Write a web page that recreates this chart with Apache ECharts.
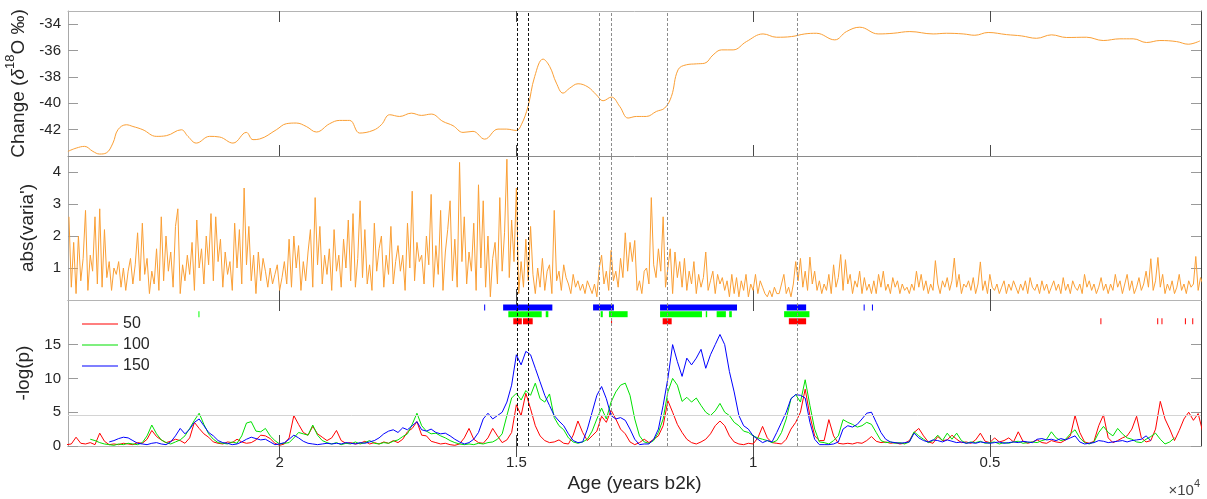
<!DOCTYPE html>
<html>
<head>
<meta charset="utf-8">
<script src="https://cdn.jsdelivr.net/npm/echarts@6/dist/echarts.min.js"></script>
<style>
  html, body { margin: 0; padding: 0; background: #fff; }
  #chart { width: 1207px; height: 499px; }
</style>
</head>
<body>
<div id="chart"></div>
<script>
// ---- tick positions -------------------------------------------------------
const ageTicks = [5000, 10000, 15000, 20000];
const d18oTicks = [-42, -40, -38, -36, -34];
const variaTicks = [1, 2, 3, 4];
const logpTicks = [0, 5, 10, 15];

// ---- δ18O record: [age b2k, ‰] ------------------------------------------
const d18o = [
  [24472,-43.65],[24296,-43.40],[24120,-43.27],[23944,-43.65],[23803,-43.85],[23662,-43.77],
  [23521,-43.02],[23416,-42.01],[23239,-41.63],[23099,-41.76],[22887,-42.01],[22606,-42.51],
  [22394,-42.46],[22077,-42.01],[21937,-42.51],[21761,-43.02],[21479,-42.51],[21268,-42.56],
  [20986,-43.02],[20704,-42.21],[20563,-42.76],[20423,-42.71],[20070,-42.01],[19859,-41.55],
  [19648,-41.50],[19437,-41.76],[19225,-42.18],[18944,-41.55],[18732,-41.30],[18521,-41.30],
  [18310,-42.26],[18028,-42.06],[17852,-41.63],[17676,-40.87],[17465,-41.00],[17219,-40.75],
  [17007,-40.92],[16796,-40.82],[16550,-41.38],[16338,-41.70],[16127,-42.21],[15916,-42.13],
  [15669,-42.72],[15388,-41.96],[15211,-41.96],[15000,-42.06],[14895,-41.63],[14754,-40.24],
  [14613,-37.97],[14437,-36.65],[14296,-37.21],[14155,-38.47],[14014,-39.23],[13873,-38.85],
  [13697,-38.52],[13486,-38.77],[13310,-39.36],[13169,-39.81],[12993,-39.53],[12817,-40.24],
  [12641,-41.12],[12465,-41.00],[12254,-41.00],[12043,-40.62],[11867,-40.36],[11725,-39.48],
  [11585,-37.46],[11409,-37.08],[11197,-37.01],[11021,-36.96],[10845,-36.33],[10669,-35.95],
  [10422,-35.95],[10141,-35.32],[9789,-34.74],[9507,-34.99],[9190,-34.94],[8909,-34.74],
  [8662,-34.69],[8275,-35.19],[8028,-34.56],[7746,-34.23],[7359,-34.74],[7042,-34.69],
  [6690,-34.56],[6197,-34.74],[5915,-34.69],[5563,-34.74],[5317,-34.84],[5035,-34.63],
  [4648,-34.79],[4331,-34.89],[4014,-35.07],[3697,-34.81],[3380,-35.01],[2958,-34.99],
  [2605,-35.24],[2253,-35.11],[1972,-35.11],[1690,-35.39],[1408,-35.24],[1056,-35.32],
  [810,-35.52],[563,-35.27]
];

// ---- abs(varia'): one value every 50 years from 24450 b2k -----------------
const variaStartAge = 24450;
const variaStepYears = 50;
const varia = [
  2.6,0.4,1.8,0.2,2.0,0.6,1.3,2.8,0.3,1.4,0.9,2.6,0.5,2.85,0.4,2.2,0.7,1.2,0.3,1.0,
  0.8,1.2,0.4,1.0,0.3,0.9,1.3,0.5,1.1,2.1,0.6,2.4,0.8,1.3,0.2,0.9,0.5,1.6,0.3,2.6,
  0.6,2.0,0.9,1.5,0.4,2.3,2.85,0.2,1.1,0.6,1.4,0.8,1.8,0.3,2.5,1.0,1.6,0.5,2.0,1.1,
  2.7,0.6,2.6,1.2,1.9,0.4,1.5,0.8,1.2,0.3,2.4,1.0,2.2,0.5,3.5,1.1,2.3,0.6,1.4,0.2,
  1.5,0.6,1.3,0.9,0.4,1.0,0.5,0.8,1.1,0.3,0.7,1.2,0.5,1.9,0.4,2.0,1.0,1.7,0.3,1.2,
  0.6,1.5,2.2,0.4,3.2,1.1,2.3,0.5,1.4,0.8,1.6,0.3,2.2,0.9,1.4,0.4,1.9,1.0,2.5,0.6,
  2.7,0.4,1.3,3.1,0.7,2.2,0.5,1.1,0.3,2.4,0.9,1.6,2.0,0.4,1.4,0.8,2.3,0.5,1.2,1.7,
  0.9,1.4,0.3,2.4,1.0,3.4,0.6,1.8,1.2,1.4,0.5,2.0,1.1,3.3,0.4,1.7,0.8,2.8,0.3,1.5,
  2.2,3.1,0.6,1.9,0.4,4.3,1.2,2.6,0.5,1.5,0.9,2.4,0.3,3.6,1.0,3.1,0.4,2.0,0.1,1.3,
  1.8,0.5,3.2,0.9,2.1,4.4,0.7,2.5,1.2,3.5,0.2,1.2,0.4,1.9,0.6,2.3,0.8,0.2,1.0,0.4,
  1.3,0.3,0.9,1.1,0.2,2.8,0.6,0.9,0.3,1.1,0.7,0.5,0.2,0.8,0.4,0.6,0.3,0.5,0.2,0.6,
  0.4,0.2,0.5,0.1,1.0,1.4,0.5,0.9,0.3,1.55,0.6,0.9,0.4,1.3,0.7,2.1,0.9,1.8,1.2,1.86,
  0.3,0.6,0.2,0.9,1.0,0.5,3.2,1.1,0.7,1.6,0.9,2.6,0.4,1.0,1.6,0.2,1.5,0.7,1.2,0.4,
  1.3,0.3,0.9,0.5,1.2,0.2,0.8,0.4,0.7,1.5,0.3,0.6,0.9,0.2,0.8,0.5,0.7,0.3,0.6,0.1,
  0.8,0.2,0.7,0.1,0.6,0.3,0.8,0.1,0.5,0.3,0.8,0.2,0.6,0.4,0.2,0.1,0.3,0.1,0.4,0.2,
  0.2,0.5,0.8,0.2,0.4,0.1,0.5,1.2,0.6,1.3,0.4,0.9,0.3,1.34,0.5,0.9,0.3,0.6,0.2,0.5,
  0.3,0.8,0.2,1.1,0.4,0.7,1.42,0.3,1.26,0.5,0.8,0.2,0.6,0.4,0.9,0.2,0.7,0.3,0.5,0.2,
  0.6,0.2,0.8,0.4,0.9,0.3,0.5,0.2,0.7,0.4,0.6,0.2,0.5,0.3,0.4,0.2,0.5,0.3,0.9,0.4,
  0.8,0.3,0.6,0.2,0.5,0.3,1.23,0.5,0.2,0.6,0.4,0.7,0.3,0.6,1.31,0.4,0.8,0.2,0.5,0.4,
  0.6,0.3,0.7,0.2,0.5,1.19,0.3,0.6,0.2,0.8,0.4,0.3,0.5,0.2,0.4,0.6,0.2,0.5,0.3,0.6,
  0.4,0.2,0.5,0.3,0.6,0.2,0.7,0.4,0.3,0.5,0.2,0.6,0.3,0.5,0.2,0.4,0.6,0.3,0.5,0.2,
  0.7,0.3,0.5,0.2,0.6,0.4,0.3,0.5,0.2,0.8,0.4,0.6,0.3,0.5,0.2,0.4,0.7,0.3,0.5,0.2,
  0.5,0.3,0.8,0.4,0.6,0.2,0.5,0.8,0.3,0.6,0.2,0.4,0.7,0.3,0.5,0.9,0.4,1.29,0.3,0.6,
  1.33,0.4,0.8,0.2,0.5,0.3,0.6,0.2,0.4,0.8,0.3,0.5,0.2,0.6,0.4,0.5,1.36,0.3,0.7,0.5
];

// ---- -log(p) for the three window lengths, one value per 100 years -------
const logpStepYears = 100;
const p50StartAge = 24500;
const p50 = [
  0.2,0.3,1.3,0.4,0.3,0.5,0.2,1.9,0.7,0.2,
  0.3,0.2,0.4,0.3,0.2,0.5,0.4,1.0,2.3,1.4,
  0.9,0.5,0.7,1.0,0.8,0.4,1.2,3.5,2.6,1.8,
  1.3,0.6,0.4,0.3,0.6,0.5,1.0,0.6,0.4,0.5,
  0.9,1.6,1.5,1.1,0.4,0.1,0.3,1.2,4.5,3.2,
  2.0,1.6,2.9,1.8,1.3,0.8,1.2,2.3,0.8,0.4,
  0.5,0.3,0.4,0.7,0.3,0.5,0.3,0.6,0.4,0.8,
  0.5,1.0,2.1,2.6,3.6,1.6,1.5,0.7,0.5,0.3,
  0.4,0.2,0.1,0.3,1.2,2.6,1.0,0.5,0.4,1.2,
  2.6,1.5,0.5,0.9,2.0,6.1,4.5,7.8,5.5,3.0,
  1.5,0.8,0.5,0.6,0.9,0.4,0.3,1.6,3.7,2.0,
  0.8,1.5,2.2,4.4,3.5,5.3,4.0,2.5,1.8,0.6,
  0.2,0.5,1.0,0.5,1.0,1.5,3.0,6.7,5.0,3.2,
  2.0,1.0,0.5,0.3,0.6,1.0,1.8,3.0,3.7,3.0,
  1.5,0.6,0.3,0.2,0.4,0.3,1.2,2.9,1.2,0.5,
  0.4,0.3,1.0,2.5,3.5,5.0,8.4,4.5,1.5,0.8,
  0.8,3.9,1.5,0.4,0.3,0.4,0.3,0.5,0.4,0.8,
  1.4,0.7,0.5,0.6,0.4,0.5,0.3,0.4,0.8,2.0,
  2.6,1.5,0.6,0.4,1.4,0.8,0.9,1.6,1.0,0.5,
  0.6,0.4,0.9,1.9,0.7,0.5,1.2,0.6,0.8,1.2,
  0.6,2.1,0.7,0.4,0.6,0.9,0.5,0.4,0.8,0.6,
  0.5,0.9,1.5,4.5,2.0,0.6,0.4,0.7,3.0,4.6,
  1.2,0.5,0.8,1.2,1.5,2.5,4.4,1.2,0.6,0.8,
  2.5,6.6,4.0,2.5,0.8,2.3,4.0,5.0,3.8,4.8,
  2.0
];
const p100StartAge = 24000;
const p100 = [
  1.0,0.8,0.5,0.3,0.2,0.1,0.3,0.2,0.4,0.3,
  0.2,0.5,1.5,3.1,1.8,0.9,0.5,0.3,0.6,0.9,
  1.5,2.6,3.8,4.85,3.2,1.8,1.0,0.5,0.4,0.3,
  0.6,0.4,1.5,3.4,3.6,2.2,2.1,2.6,1.5,0.8,
  0.3,0.4,0.5,1.2,2.0,1.8,1.6,3.1,1.6,0.8,
  0.5,0.3,0.5,0.2,0.4,0.3,0.6,0.3,0.5,0.8,
  0.4,0.3,0.5,0.4,0.7,0.9,1.4,1.8,3.2,4.85,
  3.0,2.2,1.8,1.9,1.5,1.2,0.8,0.5,0.3,0.2,
  0.3,0.2,0.4,0.3,0.5,0.6,1.0,1.8,4.5,7.1,
  7.8,6.8,8.2,7.5,9.3,7.0,6.5,7.7,4.2,3.0,
  2.4,1.2,0.6,0.4,0.6,1.0,2.2,4.0,5.6,4.0,
  6.5,8.0,9.0,9.3,7.5,4.0,1.5,0.6,0.4,0.8,
  2.0,4.0,8.0,10.0,9.0,6.6,7.2,6.5,7.1,6.0,
  5.0,4.5,5.2,6.3,5.0,4.5,3.5,3.0,2.2,2.0,
  1.5,1.2,1.0,0.8,0.5,0.8,2.0,4.0,7.0,7.6,
  6.5,9.8,6.0,2.5,0.6,0.5,0.3,0.8,1.5,3.9,
  3.5,3.2,2.8,3.0,3.5,3.2,2.0,0.8,0.5,0.6,
  0.4,0.5,0.3,0.6,2.1,1.5,1.0,0.5,0.8,1.6,
  0.8,1.9,1.0,1.9,0.8,0.4,0.6,0.5,0.7,0.4,
  0.5,0.6,0.3,0.5,0.4,0.6,0.7,0.4,0.5,0.6,
  0.5,0.8,1.0,2.1,1.2,0.8,1.0,1.8,2.4,1.2,
  0.5,0.3,0.6,2.0,2.9,2.0,1.5,2.6,1.8,1.2,
  1.0,0.6,0.5,1.0,1.4,1.9,1.0,0.3,0.6,1.2
];
const p150StartAge = 23600;
const p150 = [
  0.6,0.8,1.1,1.3,1.2,0.8,0.4,0.3,0.2,0.4,
  0.5,0.3,0.2,0.6,1.5,2.6,1.8,2.5,3.5,4.0,
  3.0,2.0,1.5,0.8,0.5,0.4,0.2,0.3,0.6,1.0,
  1.3,1.1,0.9,1.0,0.6,0.2,0.3,0.5,1.0,1.6,
  1.2,0.7,0.4,0.3,0.2,0.3,0.4,0.3,0.4,0.3,
  0.5,0.4,0.3,0.5,0.4,0.6,0.8,1.2,1.8,2.2,
  2.4,2.0,2.7,2.4,3.0,3.6,2.4,2.2,2.5,2.0,
  1.8,1.9,1.5,1.0,0.6,0.3,0.5,1.0,2.0,4.0,
  4.85,4.0,4.5,5.0,6.5,9.0,13.5,12.0,14.0,13.5,
  11.5,9.5,7.5,6.0,4.5,3.7,3.0,1.8,0.8,0.5,
  0.6,2.5,5.0,7.5,8.8,7.0,4.5,4.0,4.2,3.8,
  2.5,1.0,0.2,0.3,0.3,1.0,2.5,6.0,10.0,15.0,
  12.5,10.3,13.0,12.0,13.0,14.3,11.5,13.5,15.0,16.5,
  15.0,11.0,8.0,4.5,3.0,2.5,1.5,1.0,0.5,0.8,
  0.6,2.0,3.5,5.0,7.0,7.6,7.5,7.1,3.5,1.0,
  0.2,0.2,0.2,0.3,0.6,2.5,3.0,2.8,3.2,4.0,
  4.85,5.0,3.5,2.0,1.0,0.6,0.5,0.4,0.5,0.6,
  1.9,1.2,0.8,0.6,0.9,0.8,0.6,0.9,0.7,0.5,
  0.6,0.4,0.5,0.4,0.6,0.5,0.4,0.5,0.6,0.4,
  0.5,0.6,0.5,0.7,0.6,0.5,1.0,1.1,0.9,1.0,
  0.8,1.1,0.9,1.2,1.5,0.6,0.3,0.4,0.5,0.8,
  0.7,0.5,0.6,0.7,0.8,0.6,0.8,0.9,1.0,1.5,
  0.8
];

// ---- significant intervals [older age, younger age] per window -----------
const sig150 = [[15680,15660],[15280,14240],[13380,12940],[11965,10340],[9290,8880],[7665,7645],[7490,7470]];
const sig100 = [[21715,21695],[15170,14465],[14380,14325],[13220,13175],[13045,12650],[11965,11080],
                [11000,10970],[10770,10575],[10505,10450],[9345,8810]];
const sig50  = [[15065,14885],[14860,14655],[13000,12980],[11910,11720],[9245,8880],[2665,2645],
                [1465,1445],[1375,1355],[880,860],[725,705]];

// ---- marked events (age b2k) and significance threshold -------------------
const eventAges = [14990, 14754, 13260, 12986, 11809, 9063];
const eventIsMajor = [true, true, false, false, false, false];
const logpThreshold = 4.6;

// ---- layout / style -------------------------------------------------------
const AGE_MIN = 540, AGE_MAX = 24470;
const FONT = '"Liberation Sans", Arial, Helvetica, sans-serif';
const TXT = '#262626';
const ORANGE = '#FA9F35';
const PLOT_LEFT = 68, PLOT_WIDTH = 1133;
const panels = [
  { top: 11,  height: 145, min: -44, max: -33, ticks: d18oTicks },
  { top: 156, height: 144, min: 0,   max: 4.5, ticks: variaTicks },
  { top: 300, height: 146, min: 0,   max: 21.6, ticks: logpTicks }
];
const BAND_LEVEL = { b150: 20.5, b100: 19.5, b50: 18.45 };

const toPairs = (start, step, vals) => vals.map((v, i) => [start - i * step, v]);

const grid = panels.map(p => ({
  left: PLOT_LEFT, width: PLOT_WIDTH, top: p.top, height: p.height,
  containLabel: false, outerBoundsMode: 'none'
}));

const xAxis = [];
const yAxis = [];
panels.forEach((p, i) => {
  const isLast = i === panels.length - 1;
  xAxis.push({
    type: 'value', gridIndex: i, position: 'bottom',
    min: AGE_MIN, max: AGE_MAX, inverse: true,
    axisLine: { show: true, lineStyle: { color: '#8a8a8a', width: 1 } },
    axisTick: { show: true, inside: true, length: 11, customValues: ageTicks,
                lineStyle: { color: '#4a4a4a' } },
    axisLabel: { show: isLast, customValues: ageTicks, formatter: v => String(v / 10000),
                 fontSize: 15, fontFamily: FONT, color: TXT, margin: 9 },
    splitLine: { show: false },
    name: isLast ? 'Age (years b2k)' : '',
    nameLocation: 'middle', nameGap: 28,
    nameTextStyle: { fontSize: 19, fontFamily: FONT, color: TXT }
  });
  xAxis.push({
    type: 'value', gridIndex: i, position: 'top',
    min: AGE_MIN, max: AGE_MAX, inverse: true,
    axisLine: { show: true, lineStyle: { color: '#b4b4b4', width: 1 } },
    axisTick: { show: true, inside: true, length: 11, customValues: ageTicks,
                lineStyle: { color: '#4a4a4a' } },
    axisLabel: { show: false },
    splitLine: { show: false }
  });
  yAxis.push({
    type: 'value', gridIndex: i, position: 'left', min: p.min, max: p.max,
    axisLine: { show: true, lineStyle: { color: '#a8a8a8', width: 1 } },
    axisTick: { show: true, inside: true, length: 10, customValues: p.ticks,
                lineStyle: { color: '#9a9a9a' } },
    axisLabel: { show: true, customValues: p.ticks, fontSize: 15, fontFamily: FONT,
                 color: TXT, margin: 7 },
    splitLine: { show: false },
    nameLocation: 'middle', nameRotate: 90, nameGap: 31,
    nameTextStyle: { fontSize: 19, fontFamily: FONT, color: TXT }
  });
  yAxis.push({
    type: 'value', gridIndex: i, position: 'right', min: p.min, max: p.max,
    axisLine: { show: true, lineStyle: { color: '#404040', width: 1 } },
    axisTick: { show: true, inside: true, length: 10, customValues: p.ticks,
                lineStyle: { color: '#9a9a9a' } },
    axisLabel: { show: false },
    splitLine: { show: false }
  });
});

yAxis[0].name = '{t|Change (}{d|δ}{s|18}{t|O ‰)}';
yAxis[0].nameTextStyle = {
  color: TXT, fontFamily: FONT, fontSize: 19,
  rich: {
    t: { fontSize: 19, fontFamily: FONT, color: TXT, lineHeight: 24, verticalAlign: 'bottom' },
    d: { fontSize: 19, fontFamily: FONT, color: TXT, fontStyle: 'italic', lineHeight: 24, verticalAlign: 'bottom' },
    s: { fontSize: 13, fontFamily: FONT, color: TXT, lineHeight: 12, verticalAlign: 'top' }
  }
};
yAxis[2].name = "abs(varia')";
yAxis[4].name = '-log(p)';

const eventLines = eventAges.map((a, k) => ({
  xAxis: a,
  lineStyle: { color: eventIsMajor[k] ? '#111' : '#8c8c8c', type: [3, 2], width: 1 }
}));
const markEvents = extra => ({
  silent: true, symbol: ['none', 'none'], label: { show: false },
  animation: false, data: eventLines.concat(extra || [])
});

function bandSeries(name, intervals, level, color) {
  return {
    type: 'custom', name, xAxisIndex: 4, yAxisIndex: 4, silent: true, z: 3,
    data: intervals.map(([a, b]) => [a, b, level]),
    encode: { x: [0, 1], y: 2 },
    renderItem: (params, api) => {
      const p0 = api.coord([api.value(0), api.value(2)]);
      const p1 = api.coord([api.value(1), api.value(2)]);
      const x = Math.min(p0[0], p1[0]);
      const w = Math.max(1, Math.abs(p1[0] - p0[0]));
      return { type: 'rect', shape: { x, y: p0[1] - 3, width: w, height: 6 },
               style: { fill: color } };
    }
  };
}

const lineOf = (name, data, xi, yi, color, extra) => Object.assign({
  type: 'line', name, data, xAxisIndex: xi, yAxisIndex: yi,
  symbol: 'none', showSymbol: false, clip: true,
  lineStyle: { color, width: 1 }, itemStyle: { color }
}, extra || {});

const option = {
  animation: false,
  backgroundColor: '#fff',
  textStyle: { fontFamily: FONT },
  grid, xAxis, yAxis,
  legend: {
    data: ['50', '100', '150'],
    orient: 'vertical', left: 77, top: 311, padding: 5,
    icon: 'rect', itemWidth: 36, itemHeight: 1, itemGap: 5,
    textStyle: { fontSize: 16, lineHeight: 16, fontFamily: FONT, color: TXT },
    selectedMode: false
  },
  graphic: [{
    type: 'text', right: 7, top: 478, silent: true,
    style: {
      text: '{a|×10}{b|4}',
      rich: {
        a: { fontSize: 15, fontFamily: FONT, fill: '#444', lineHeight: 20, verticalAlign: 'bottom' },
        b: { fontSize: 11, fontFamily: FONT, fill: '#444', lineHeight: 10, verticalAlign: 'top' }
      }
    }
  }],
  series: [
    lineOf('δ18O', d18o, 0, 0, ORANGE, { smooth: 0.4, markLine: markEvents() }),
    lineOf('varia', toPairs(variaStartAge, variaStepYears, varia), 2, 2, ORANGE,
           { markLine: markEvents() }),
    lineOf('50', toPairs(p50StartAge, logpStepYears, p50), 4, 4, '#ff0000', {
      markLine: markEvents([{ yAxis: logpThreshold,
        lineStyle: { color: '#d4d4d4', type: 'solid', width: 1 } }])
    }),
    lineOf('100', toPairs(p100StartAge, logpStepYears, p100), 4, 4, '#00e000'),
    lineOf('150', toPairs(p150StartAge, logpStepYears, p150), 4, 4, '#0000ff'),
    bandSeries('sig150', sig150, BAND_LEVEL.b150, '#0000ff'),
    bandSeries('sig100', sig100, BAND_LEVEL.b100, '#00ff00'),
    bandSeries('sig50', sig50, BAND_LEVEL.b50, '#ff0000')
  ]
};

const chart = echarts.init(document.getElementById('chart'), null, { renderer: 'canvas' });
chart.setOption(option);
</script>
</body>
</html>
